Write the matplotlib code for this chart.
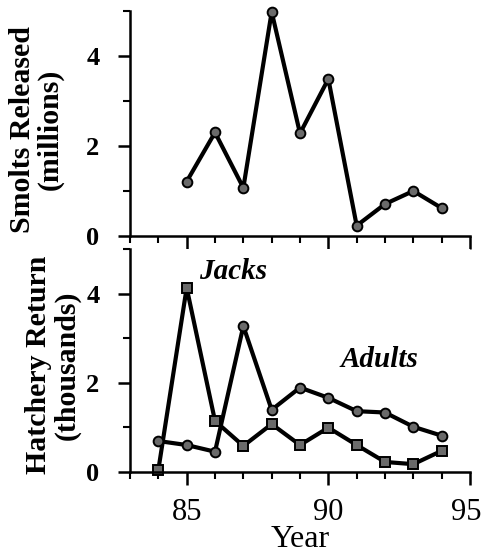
# Smolts released and hatchery returns by year

import numpy as np
import matplotlib.pyplot as plt
import matplotlib.transforms as mtransforms
from matplotlib.ticker import MultipleLocator

plt.rcParams['font.family'] = ['Liberation Serif', 'DejaVu Serif']

# Data
smolt_years = [85, 86, 87, 88, 89, 90, 91, 92, 93, 94]
smolts = [1.21, 2.30, 1.07, 4.98, 2.28, 3.49, 0.23, 0.71, 1.00, 0.62]

return_years = [84, 85, 86, 87, 88, 89, 90, 91, 92, 93, 94]
jacks = [0.04, 4.13, 1.14, 0.58, 1.07, 0.60, 0.99, 0.60, 0.22, 0.17, 0.47]
adults = [0.69, 0.60, 0.45, 3.27, 1.39, 1.89, 1.66, 1.36, 1.33, 1.01, 0.81]

x_ticks = [85, 90, 95]
y_ticks = [0, 2, 4]

fig = plt.figure(figsize=(4.84, 5.55), dpi=100)
ax1 = fig.add_axes([0.2686, 0.5748, 0.7025, 0.4054])
ax2 = fig.add_axes([0.2686, 0.150, 0.7025, 0.4013])

line_kw = dict(color='black', lw=3.0, markersize=7, markeredgecolor='black',
               markeredgewidth=1.4, markerfacecolor='#6a6a6a', clip_on=False)

ax1.plot(smolt_years, smolts, marker='o', **line_kw)
ax2.plot(return_years, jacks, marker='s', **line_kw)
ax2.plot(return_years, adults, marker='o', **line_kw)

for ax in (ax1, ax2):
    ax.set_xlim(83, 95)
    ax.set_ylim(0, 5)
    ax.set_xticks(x_ticks)
    ax.set_yticks(y_ticks)
    ax.xaxis.set_minor_locator(MultipleLocator(1))
    ax.yaxis.set_minor_locator(MultipleLocator(1))
    for s in ['top', 'right']:
        ax.spines[s].set_visible(False)
    for s in ['left', 'bottom']:
        ax.spines[s].set_linewidth(1.8)
    ax.tick_params(which='major', direction='out', length=9, width=1.8)
    ax.tick_params(which='minor', direction='out', length=5, width=1.5)
    ax.tick_params(axis='y', labelsize=19, pad=13)
    for lab in ax.get_yticklabels():
        lab.set_fontweight('bold')

ax1.tick_params(axis='x', labelbottom=False)
ax2.tick_params(axis='x', labelsize=22, pad=10)
# nudge the last year label so it stays inside the figure
last = ax2.get_xticklabels()[-1]
last.set_transform(last.get_transform() +
                   mtransforms.ScaledTranslation(-4 / 100, 0, fig.dpi_scale_trans))

ax1.set_ylabel('Smolts Released\n(millions)', fontsize=21.5, fontweight='bold',
               linespacing=1.05)
ax2.set_ylabel('Hatchery Return\n(thousands)', fontsize=21.5, fontweight='bold',
               linespacing=1.05)
ax1.yaxis.set_label_coords(-0.194, 0.475)
ax2.yaxis.set_label_coords(-0.145, 0.48)
fig.text(0.62, 0.014, 'Year', fontsize=23, ha='center', va='baseline')

ax2.text(86.65, 4.49, 'Jacks', fontsize=21, fontweight='bold', style='italic',
         ha='center', va='center')
ax2.text(91.8, 2.51, 'Adults', fontsize=21, fontweight='bold', style='italic',
         ha='center', va='center')

plt.savefig('out.png', dpi=100)
